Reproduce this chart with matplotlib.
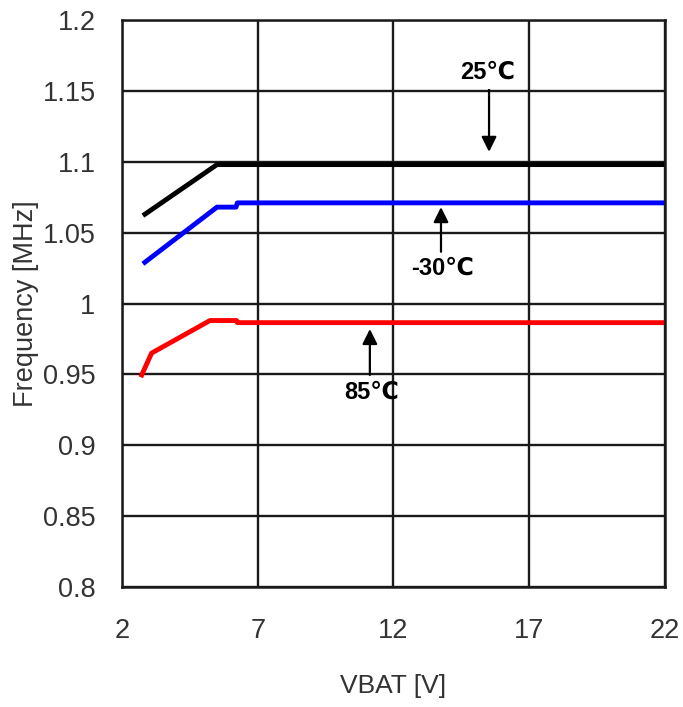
import matplotlib
matplotlib.use("Agg")
import matplotlib.pyplot as plt

# Data
x_25 = [2.77, 5.5, 22.0]
y_25 = [1.062, 1.098, 1.098]

x_m30 = [2.77, 5.5, 6.2, 6.25, 22.0]
y_m30 = [1.028, 1.068, 1.068, 1.071, 1.071]

x_85 = [2.69, 3.09, 5.24, 6.22, 6.25, 22.0]
y_85 = [0.948, 0.965, 0.988, 0.988, 0.9865, 0.9865]

x_ticks = [2, 7, 12, 17, 22]
y_ticks = [0.8, 0.85, 0.9, 0.95, 1.0, 1.05, 1.1, 1.15, 1.2]
y_tick_labels = ["0.8", "0.85", "0.9", "0.95", "1", "1.05", "1.1", "1.15", "1.2"]

plt.rcParams['font.family'] = ['Liberation Sans', 'DejaVu Sans']

fig = plt.figure(figsize=(6.83, 7.07), dpi=100)
ax = fig.add_axes([0.1786, 0.1697, 0.795, 0.8020])

ax.set_xlim(2, 22)
ax.set_ylim(0.8, 1.2)
ax.set_xticks(x_ticks)
ax.set_yticks(y_ticks)
ax.set_yticklabels(y_tick_labels)
ax.grid(True, color='#1a1a1a', linewidth=1.7)
ax.set_axisbelow(True)
for s in ax.spines.values():
    s.set_color('#1a1a1a')
    s.set_linewidth(1.8)
ax.tick_params(length=0, labelsize=19.5, colors='#333333')
ax.tick_params(axis='y', pad=19)
ax.tick_params(axis='x', pad=22)

ax.plot(x_25, y_25, color='black', linewidth=3.5, solid_capstyle='butt')
ax.plot(x_m30, y_m30, color='#0000ff', linewidth=3.5, solid_capstyle='butt')
ax.plot(x_85, y_85, color='#ff0000', linewidth=3.5, solid_capstyle='butt')

ax.set_xlabel('VBAT [V]', fontsize=19, color='#333333', labelpad=22)
ax.set_ylabel('Frequency [MHz]', fontsize=19.5, color='#333333')
ax.yaxis.set_label_coords(-0.152, 0.5)

ap = dict(arrowstyle='-|>,head_length=0.9,head_width=0.45', color='black', lw=1.6, shrinkA=0, shrinkB=0)
ax.annotate('', xy=(15.52, 1.107), xytext=(15.52, 1.152), arrowprops=ap)
ax.text(15.45, 1.1635, '25℃', ha='center', va='center', fontsize=17, fontweight='bold',
        bbox=dict(facecolor='white', edgecolor='none', pad=4))

ax.annotate('', xy=(13.75, 1.068), xytext=(13.75, 1.0365), arrowprops=ap)
ax.text(13.8, 1.025, '-30℃', ha='center', va='center', fontsize=17, fontweight='bold')

ax.annotate('', xy=(11.13, 0.982), xytext=(11.13, 0.9496), arrowprops=ap)
ax.text(11.2, 0.9376, '85℃', ha='center', va='center', fontsize=17, fontweight='bold')

fig.savefig('out.png', dpi=100)
